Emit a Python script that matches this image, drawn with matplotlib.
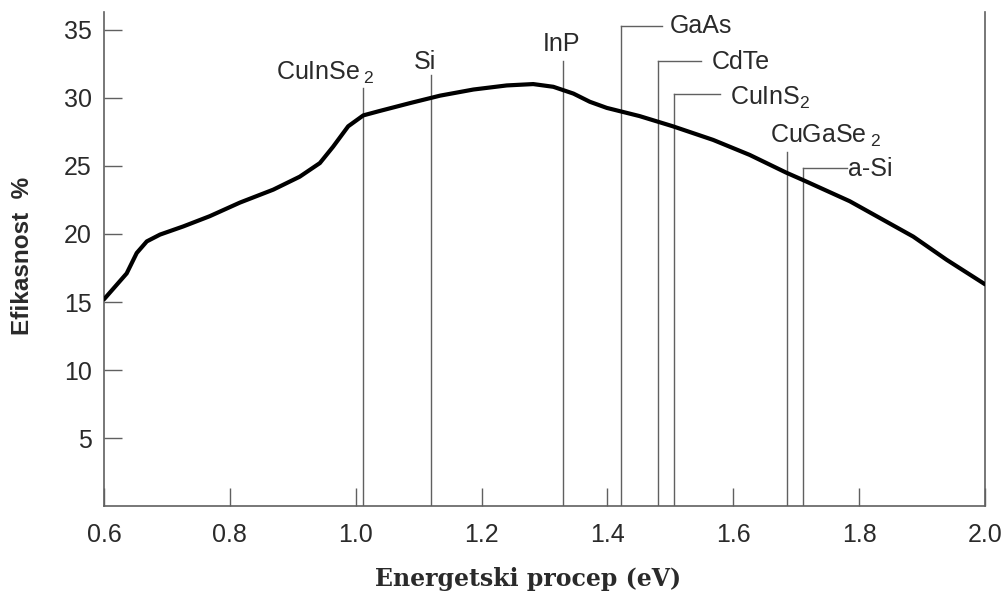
import numpy as np
import matplotlib.pyplot as plt

# efficiency curve
gap = [0.6, 0.636, 0.652, 0.668, 0.689, 0.726, 0.768, 0.816, 0.869, 0.911,
       0.943, 0.964, 0.988, 1.012, 1.036, 1.086, 1.134, 1.187, 1.24, 1.282,
       1.314, 1.346, 1.372, 1.399, 1.451, 1.504, 1.568, 1.626, 1.684, 1.711,
       1.785, 1.886, 1.939, 2.0]
eff = [15.2, 17.1, 18.6, 19.45, 19.95, 20.55, 21.3, 22.3, 23.25, 24.2,
       25.2, 26.4, 27.9, 28.7, 29.0, 29.6, 30.15, 30.6, 30.9, 31.0,
       30.8, 30.3, 29.7, 29.25, 28.65, 27.9, 26.9, 25.8, 24.5, 23.95,
       22.4, 19.8, 18.1, 16.3]

# materials and their band gaps (eV)
materials = ['CuInSe$\\,_2$', 'Si', 'InP', 'GaAs', 'CdTe', 'CuInS$_2$', 'CuGaSe$\\,_2$', 'a-Si']
mat_gap = [1.012, 1.12, 1.33, 1.422, 1.481, 1.505, 1.685, 1.71]

# layout of the marker lines and labels
line_top = [30.7, 31.7, 32.7, 35.3, 32.7, 30.25, 26.0, 24.85]
leader_end = [None, None, None, 1.486, 1.549, 1.579, None, 1.78]
label_xy = [(0.874, 31.35), (1.11, 32.08), (1.327, 33.4), (1.499, 35.25),
            (1.565, 32.65), (1.594, 30.0), (1.659, 26.7), (1.782, 24.75)]

xticks = [0.6, 0.8, 1.0, 1.2, 1.4, 1.6, 1.8, 2.0]
yticks = [5, 10, 15, 20, 25, 30, 35]

txt = '#2a2a2a'
gray = '#606060'

def draw():
    plt.rcParams['mathtext.default'] = 'regular'
    plt.rcParams['mathtext.fontset'] = 'custom'
    plt.rcParams['mathtext.rm'] = 'Liberation Sans'
    fig = plt.figure(figsize=(10.04, 5.94), dpi=100)
    ax = fig.add_axes([0.1036, 0.1476, 0.8775, 0.8324])

    for i, name in enumerate(materials):
        g = mat_gap[i]
        ax.plot([g, g], [0, line_top[i]], color=gray, lw=1.0, zorder=1)
        if leader_end[i] is not None:
            ax.plot([g, leader_end[i]], [line_top[i], line_top[i]], color=gray, lw=1.0, zorder=1)
            ax.text(label_xy[i][0], label_xy[i][1], name, ha='left', va='center',
                    fontsize=18, color=txt, family='Liberation Sans')
        elif i == 1 or i == 2:
            ax.text(label_xy[i][0], label_xy[i][1], name, ha='center', va='baseline',
                    fontsize=18, color=txt, family='Liberation Sans')
        else:
            ax.text(label_xy[i][0], label_xy[i][1], name, ha='left', va='baseline',
                    fontsize=18, color=txt, family='Liberation Sans')

    ax.plot(gap, eff, color='black', lw=3, solid_joinstyle='round',
            solid_capstyle='round', zorder=3)

    ax.set_xlim(0.6, 2.0)
    ax.set_ylim(0, 36.3)
    ax.set_xticks(xticks)
    ax.set_xticklabels(['%.1f' % v for v in xticks])
    ax.set_yticks(yticks)
    ax.tick_params(direction='in', length=13, width=1, color=gray,
                   labelsize=18, labelcolor=txt)
    ax.tick_params(axis='x', pad=12)
    ax.tick_params(axis='y', pad=9)
    for lab in ax.get_xticklabels() + ax.get_yticklabels():
        lab.set_family('Liberation Sans')

    ax.spines['top'].set_visible(False)
    for s in ['left', 'bottom', 'right']:
        ax.spines[s].set_color(gray)
        ax.spines[s].set_linewidth(1.2)

    fig.text(23 / 1004, 1 - 256 / 594, 'Efikasnost  %', rotation=90, ha='center', va='center',
             fontsize=17.5, fontweight='bold', color=txt, family='Liberation Sans')
    fig.text(528 / 1004, 3 / 594, 'Energetski procep (eV)', ha='center', va='bottom',
             fontsize=17, fontweight='bold', color=txt, family='DejaVu Serif')

    plt.savefig('out.png', dpi=100)

if __name__ == '__main__':
    draw()
